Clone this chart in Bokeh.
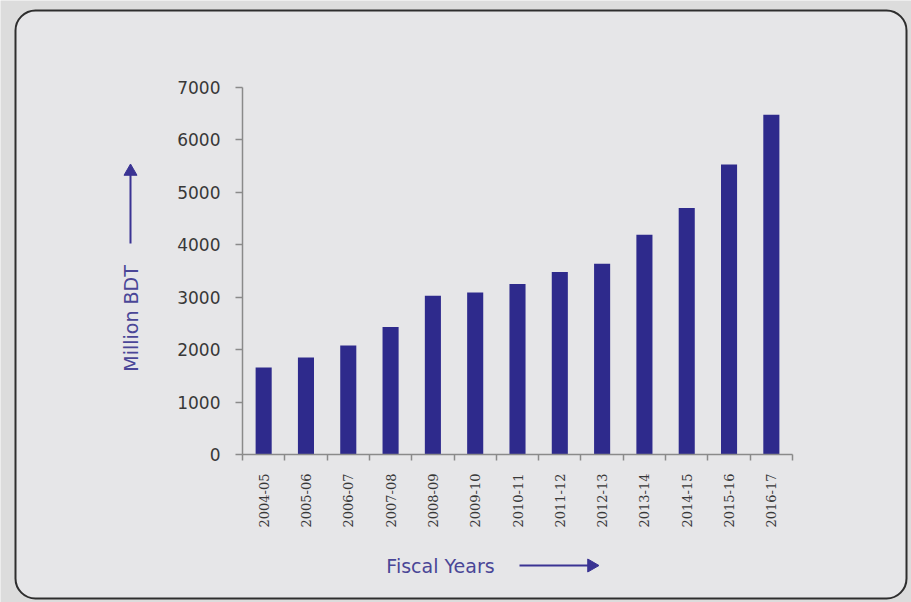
from math import pi
from bokeh.plotting import figure
from bokeh.models import Range1d, FixedTicker, BoxAnnotation, Label
from bokeh.embed import file_html
from bokeh.resources import INLINE

# ---- data -------------------------------------------------------------
years = ["2004-05", "2005-06", "2006-07", "2007-08", "2008-09", "2009-10",
         "2010-11", "2011-12", "2012-13", "2013-14", "2014-15", "2015-16",
         "2016-17"]
values = [1660, 1850, 2080, 2430, 3030, 3090, 3250, 3480, 3640, 4190,
          4700, 5530, 6480]
y_ticks = [0, 1000, 2000, 3000, 4000, 5000, 6000, 7000]
y_title = "Million BDT"
x_title = "Fiscal Years"

# ---- layout (canvas pixels) -------------------------------------------
W, H = 911, 602
L, R, T, B = 242, 792, 87, 454          # plotting box edges on canvas
n = len(years)
xa0, xa1 = -0.5, n - 0.5                # category extent
ya0, ya1 = 0, 7000
kx = (R - L) / (xa1 - xa0)
ky = (B - T) / (ya1 - ya0)
x_start, x_end = xa0 - L / kx, xa1 + (W - R) / kx
y_start, y_end = ya0 - (H - B) / ky, ya1 + T / ky


def dx(px):
    return x_start + px / kx


def dy(py):
    return y_start + (H - py) / ky


BAR = "#2e2a8c"
TXT = "#383838"
LAB = "#4a4697"
ARW = "#3a3393"
INSIDE = "#e6e6e8"
OUTSIDE = "#dcdcdc"
AXIS = "#8a8a8a"

p = figure(width=W, height=H, x_range=Range1d(x_start, x_end),
           y_range=Range1d(y_start, y_end),
           output_backend="svg", toolbar_location=None, min_border=0)
p.background_fill_color = OUTSIDE
p.border_fill_color = OUTSIDE
p.outline_line_color = None
p.grid.visible = False

# rounded card
card = BoxAnnotation(left=dx(15), right=dx(906), top=dy(10), bottom=dy(598),
                     fill_color=INSIDE, fill_alpha=1.0,
                     line_color="#2e2e2e", line_alpha=1.0, line_width=2,
                     border_radius=20, level="underlay")
p.add_layout(card)

idx = list(range(n))
p.vbar(x=idx, top=values, width=0.38, fill_color=BAR, line_color=None)

# x axis
xa = p.xaxis[0]
xa.fixed_location = 0
xa.bounds = (xa0, xa1)
xa.ticker = FixedTicker(ticks=idx, minor_ticks=[i - 0.5 for i in range(n + 1)])
xa.major_label_overrides = {i: y for i, y in enumerate(years)}
xa.major_label_orientation = pi / 2
xa.major_tick_out = 0
xa.major_tick_in = 0
xa.minor_tick_out = 6
xa.minor_tick_in = 0
xa.minor_tick_line_color = AXIS
xa.minor_tick_line_width = 1.5
xa.axis_line_color = AXIS
xa.axis_line_width = 1.5
xa.major_label_standoff = 13
xa.major_label_text_font = "DejaVu Serif"
xa.major_label_text_font_size = "13px"
xa.major_label_text_color = TXT

# y axis
ya = p.yaxis[0]
ya.fixed_location = xa0
ya.bounds = (ya0, ya1)
ya.ticker = FixedTicker(ticks=y_ticks)
ya.major_tick_out = 7
ya.major_tick_in = 0
ya.minor_tick_line_color = None
ya.major_tick_line_color = AXIS
ya.major_tick_line_width = 1.5
ya.axis_line_color = AXIS
ya.axis_line_width = 1.5
ya.major_label_standoff = 15
ya.major_label_text_font = "DejaVu Sans"
ya.major_label_text_font_size = "17px"
ya.major_label_text_color = TXT

# axis titles with arrows
p.add_layout(Label(x=dx(130), y=dy(318), text=y_title, angle=pi / 2,
                   text_align="center", text_baseline="middle",
                   text_font="DejaVu Sans", text_font_size="19px",
                   text_color=LAB))
p.segment(x0=[dx(130)], y0=[dy(243)], x1=[dx(130)], y1=[dy(171)],
          line_color=ARW, line_width=2)
p.scatter(x=[dx(130)], y=[dy(171)], marker="triangle", size=13,
          fill_color=ARW, line_color=ARW)

p.add_layout(Label(x=dx(440), y=dy(565), text=x_title,
                   text_align="center", text_baseline="middle",
                   text_font="DejaVu Sans", text_font_size="19px",
                   text_color=LAB))
p.segment(x0=[dx(519)], y0=[dy(565)], x1=[dx(591)], y1=[dy(565)],
          line_color=ARW, line_width=2)
p.scatter(x=[dx(591)], y=[dy(565)], marker="triangle", size=13, angle=-pi / 2,
          fill_color=ARW, line_color=ARW)

html = file_html(p, INLINE)
html = html.replace("<body>", '<body style="background-color:%s;">' % OUTSIDE, 1)
open("out.html", "w").write(html)
